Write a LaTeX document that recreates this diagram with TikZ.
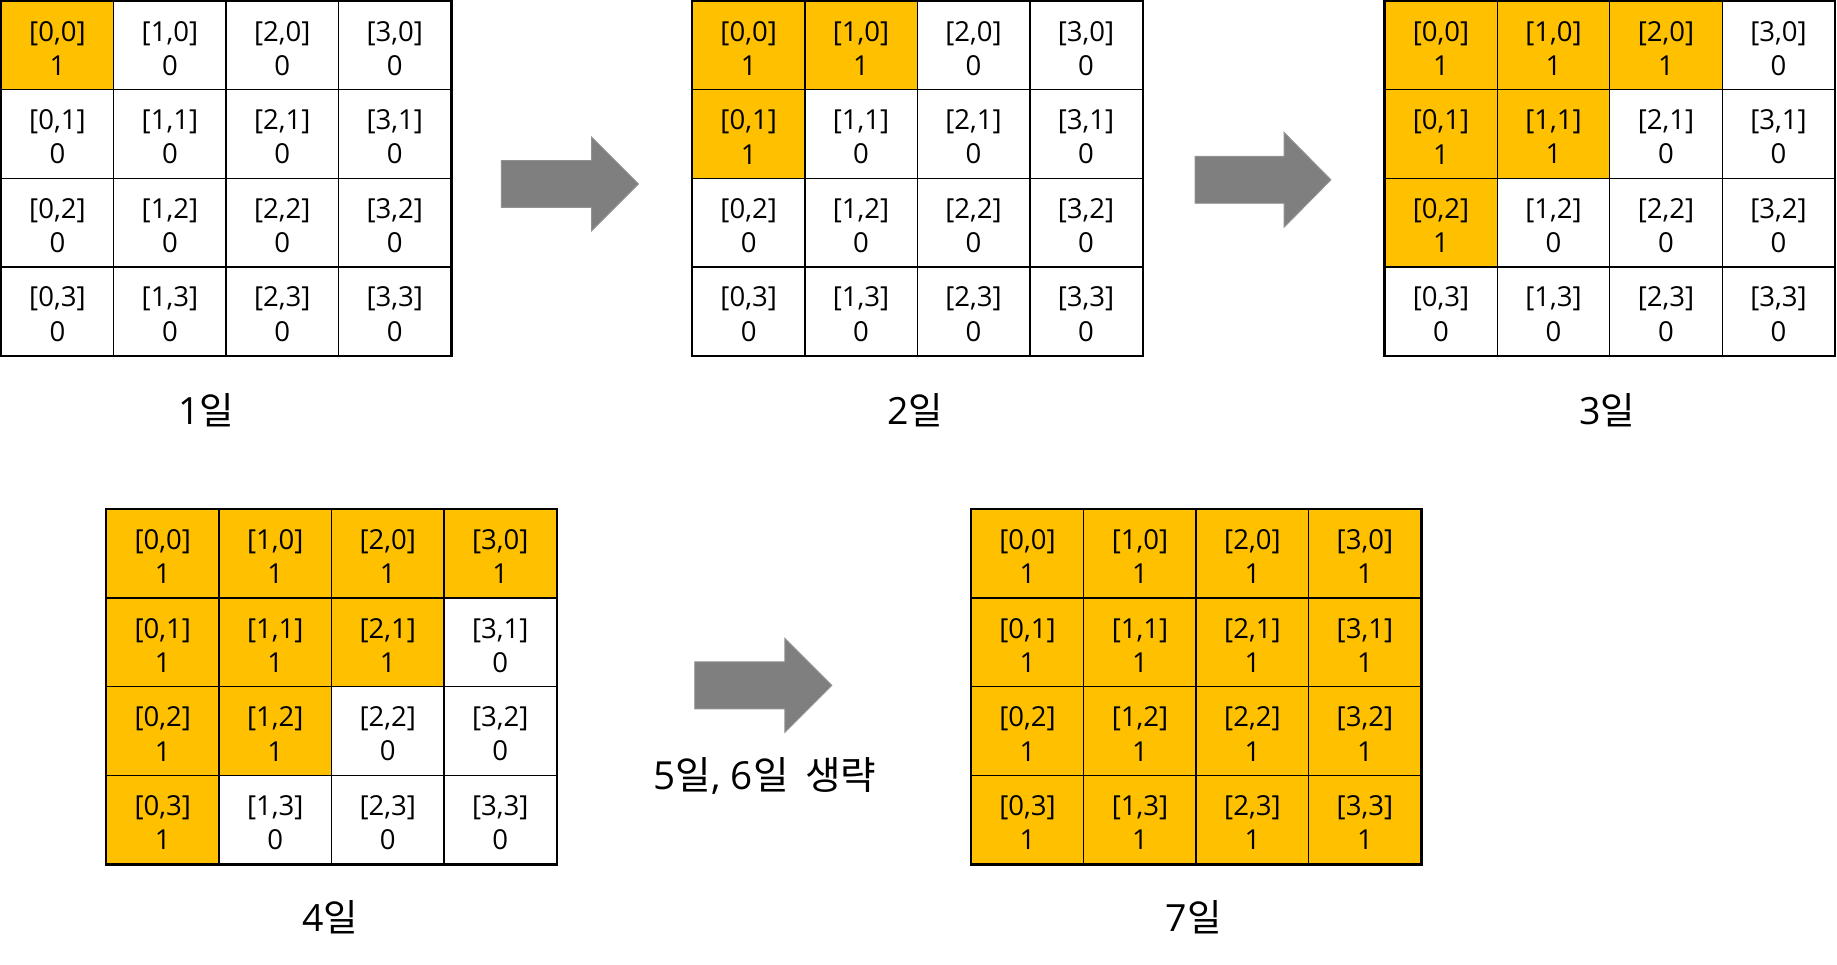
\documentclass[tikz,border=0pt]{standalone}
\usepackage{fontspec}
\setmainfont{Open Sans}
\newfontfamily\kr{Noto Sans CJK KR}
\definecolor{gold}{HTML}{FFC000}
\definecolor{arrowgray}{HTML}{7F7F7F}
\newcommand\drawgrid[4]{% name, x0, y0, k
  \foreach \i in {0,...,3} {\foreach \j in {0,...,3} {
    \pgfmathtruncatemacro\s{\i+\j}
    \ifnum\s<#4\relax\def\cellfill{gold}\def\cellval{1}\else\def\cellfill{white}\def\cellval{0}\fi
    \node[cell, fill=\cellfill] (#1-\i-\j) at ({#2+48+96*\i},{#3+37.8+75.6*\j}) {};
    \node[celltext] (#1-\i-\j-t) at ([yshift=-2.5pt]#1-\i-\j.center) {[\i,\j]\\\cellval};
  }}
  \draw[line width=1.6pt] (#1-0-0.north west) rectangle (#1-3-3.south east);
}
\begin{document}
\begin{tikzpicture}[x=1pt,y=-1pt,
  cell/.style={draw=black, line width=1.2pt, minimum width=96pt, minimum height=75.6pt,
    inner sep=0pt},
  celltext/.style={inner sep=0pt, align=center, font=\fontsize{23.5}{29.2}\selectfont},
  daylabel/.style={font=\fontsize{32}{38}\selectfont, anchor=base, inner sep=0pt},
  blockarrow/.style={fill=arrowgray, draw=arrowgray!85!white, line width=0.8pt}]
\useasboundingbox (0,0) rectangle (1568,823.5);
\fill[white] (0,0) rectangle (1568,823.5);

\drawgrid{ga}{1}{1}{1}
\drawgrid{gb}{591}{1}{2}
\drawgrid{gc}{1182}{1}{3}
\drawgrid{gd}{91}{435}{4}
\drawgrid{ge}{829}{435}{7}

\node[daylabel] (la) at (176,362) {1{\kr 일}};
\node[daylabel] (lb) at (781,362) {2{\kr 일}};
\node[daylabel] (lc) at (1372,362) {3{\kr 일}};
\node[daylabel] (ld) at (282,795) {4{\kr 일}};
\node[daylabel] (le) at (1019,795) {7{\kr 일}};
\node[daylabel, font=\fontsize{33}{38}\selectfont] (lskip) at (653,674) {5{\kr 일}, 6{\kr 일}\, {\kr 생략}};

\draw[blockarrow] (428,137) -- (505,137) -- (505,117) -- (545,157) -- (505,197) -- (505,177) -- (428,177) -- cycle;
\draw[blockarrow] (1020,133.5) -- (1096,133.5) -- (1096,113) -- (1136,153.5) -- (1096,194) -- (1096,173.5) -- (1020,173.5) -- cycle;
\draw[blockarrow] (593,565) -- (670,565) -- (670,545) -- (710,585) -- (670,625) -- (670,605) -- (593,605) -- cycle;
\end{tikzpicture}
\end{document}
